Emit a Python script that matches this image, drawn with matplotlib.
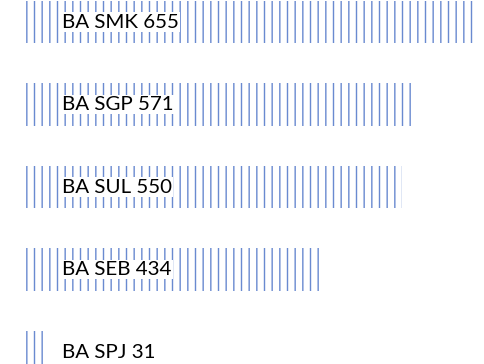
import matplotlib
matplotlib.use("Agg")
import matplotlib.pyplot as plt

codes = ["BA SMK", "BA SGP", "BA SUL", "BA SEB", "BA SPJ"]
values = [655, 571, 550, 434, 31]

BLUE = "#6a8ad0"
DPI = 92
plt.rcParams["hatch.linewidth"] = 1.1

fig = plt.figure(figsize=(484 / DPI, 364 / DPI), dpi=DPI)
ax = fig.add_axes([0, 0, 1, 1])

pos = list(range(len(values)))
ax.barh(pos, values, height=0.52, color="none", edgecolor=BLUE,
        linewidth=0, hatch="||")

for p, c, v in zip(pos, codes, values):
    ax.text(53.3, p, f"{c} {v}", va="center", ha="left", fontsize=16,
            family="Lato", color="black",
            bbox=dict(facecolor="white", edgecolor="none", pad=1.0))

ax.set_xlim(-37.2, 669.3)
ax.set_ylim(4.145, -0.267)
ax.axis("off")

fig.savefig("out.png", dpi=DPI, facecolor="white")
